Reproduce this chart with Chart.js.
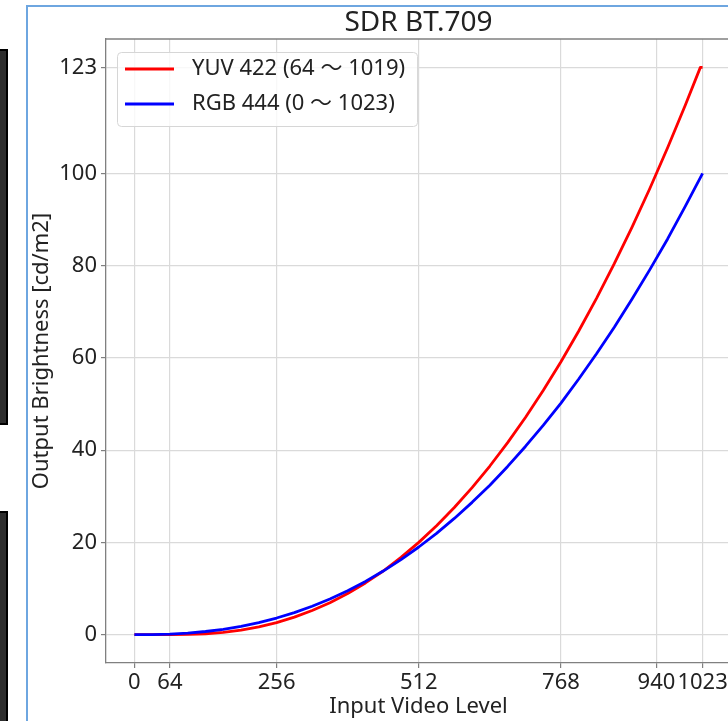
<!DOCTYPE html>
<html>
<head>
<meta charset="utf-8">
<script src="https://cdn.jsdelivr.net/npm/chart.js@4.4.0/dist/chart.umd.min.js"></script>
<style>
  html, body { margin: 0; padding: 0; background: #fff; }
  #page { position: relative; width: 728px; height: 721px; overflow: hidden; background: #fff; }
  .bar { position: absolute; left: 0; width: 6px; background: #2e2e2e; border: 2px solid #000; border-left: none; }
  #frame { position: absolute; left: 26px; top: 5px; width: 800px; height: 800px;
           border-left: 2px solid #6ea6e0; border-top: 2px solid #6ea6e0; }
  #chart { position: absolute; left: 0; top: 0; }
</style>
</head>
<body>
<div id="page">
  <div class="bar" style="top:49px;height:372px"></div>
  <div class="bar" style="top:511px;height:220px"></div>
  <div id="frame"></div>
  <canvas id="chart" width="760" height="721"></canvas>
</div>
<script>
// values
const levels = [0, 32, 64, 96, 128, 160, 192, 224, 256, 288, 320, 352, 384, 416, 448, 480, 512,
  544, 576, 608, 640, 672, 704, 736, 768, 800, 832, 864, 896, 928, 960, 992, 1019, 1023];
const yuvBrightness = [0, 0, 0, 0.04, 0.19, 0.5, 0.99, 1.69, 2.62, 3.79, 5.22, 6.93, 8.92, 11.21, 13.8, 16.74, 20.0,
  23.6, 27.56, 31.87, 36.56, 41.63, 47.08, 52.93, 59.18, 65.84, 72.92, 80.43, 88.37, 96.74, 105.57, 114.84, 123, 123];
const rgbBrightness = [0, 0.02, 0.13, 0.34, 0.68, 1.16, 1.8, 2.61, 3.6, 4.77, 6.15, 7.73, 9.52, 11.54, 13.78, 16.27, 19.0,
  21.96, 25.2, 28.68, 32.4, 36.47, 40.8, 45.37, 50.2, 55.42, 60.9, 66.67, 72.8, 79.14, 85.8, 92.9, 99.1, 100];
const xTicks = [0, 64, 256, 512, 768, 940, 1023];
const yTicks = [0, 20, 40, 60, 80, 100, 123];
const seriesLabels = ["YUV 422 (64 〜 1019)", "RGB 444 (0 〜 1023)"];
const seriesColors = ["#ff0000", "#0000ff"];
const chartTitle = "SDR BT.709";

const fontFamily = '"Noto Sans", "Noto Sans CJK JP", sans-serif';
const textColor = "#222";
const spineColor = "#808080";
const gridColor = "#dadada";
const tickFont = { family: fontFamily, size: 22 };

// title, top/right spines and the legend box inside the plot
const decorPlugin = {
  id: "decor",
  afterDraw(chart) {
    const { ctx, chartArea: a } = chart;
    ctx.save();
    ctx.strokeStyle = spineColor;
    ctx.lineWidth = 1.3;
    ctx.beginPath();
    ctx.moveTo(a.left, a.top);
    ctx.lineTo(a.right, a.top);
    ctx.lineTo(a.right, a.bottom);
    ctx.stroke();

    ctx.fillStyle = textColor;
    ctx.font = "28px " + fontFamily;
    ctx.textAlign = "center";
    ctx.textBaseline = "middle";
    ctx.fillText(chartTitle, (a.left + a.right) / 2, 23);

    // legend
    ctx.font = "22px " + fontFamily;
    const boxX = a.left + 11, boxY = a.top + 13;
    const textX = boxX + 75;
    const maxW = Math.max(...seriesLabels.map((t) => ctx.measureText(t).width));
    const boxW = textX - boxX + maxW + 12, boxH = 74;
    ctx.beginPath();
    ctx.roundRect(boxX + 0.5, boxY + 0.5, boxW, boxH, 4);
    ctx.fillStyle = "rgba(255,255,255,0.8)";
    ctx.fill();
    ctx.strokeStyle = "#d6d6d6";
    ctx.lineWidth = 1;
    ctx.stroke();
    seriesLabels.forEach((label, i) => {
      const y = boxY + 17 + i * 35;
      ctx.strokeStyle = seriesColors[i];
      ctx.lineWidth = 2.8;
      ctx.beginPath();
      ctx.moveTo(boxX + 8, y);
      ctx.lineTo(boxX + 57, y);
      ctx.stroke();
      ctx.fillStyle = textColor;
      ctx.textAlign = "left";
      ctx.fillText(label, textX, y);
    });
    ctx.restore();
  },
};

const ctx = document.getElementById("chart").getContext("2d");
const brightnessChart = new Chart(ctx, {
  type: "line",
  data: {
    datasets: [
      {
        label: seriesLabels[0],
        data: levels.map((x, i) => ({ x: x, y: yuvBrightness[i] })),
        borderColor: seriesColors[0],
        order: 1,
      },
      {
        label: seriesLabels[1],
        data: levels.map((x, i) => ({ x: x, y: rgbBrightness[i] })),
        borderColor: seriesColors[1],
        order: 0,
      },
    ],
  },
  options: {
    responsive: false,
    animation: false,
    devicePixelRatio: 1,
    layout: { padding: { top: 39, right: 29, bottom: 0, left: 0 } },
    elements: {
      point: { radius: 0 },
      line: { borderWidth: 2.8, tension: 0, fill: false, borderJoinStyle: "round" },
    },
    plugins: {
      legend: { display: false },
      title: { display: false },
      tooltip: { enabled: false },
    },
    scales: {
      x: {
        type: "linear",
        min: -51.15,
        max: 1074.15,
        afterBuildTicks: (s) => { s.ticks = xTicks.map((v) => ({ value: v })); },
        afterFit: (s) => { s.height = 58; },
        grid: { color: gridColor, lineWidth: 1.2, tickLength: 5, tickColor: spineColor, tickWidth: 1.2 },
        border: { color: spineColor, width: 1.3 },
        ticks: { color: textColor, font: tickFont, padding: 2, autoSkip: false, maxRotation: 0, callback: (v) => String(v) },
        title: { display: true, text: "Input Video Level", color: textColor, font: tickFont, padding: { top: 0, bottom: 1 } },
      },
      y: {
        type: "linear",
        min: -6.15,
        max: 129.15,
        afterBuildTicks: (s) => { s.ticks = yTicks.map((v) => ({ value: v })); },
        afterFit: (s) => { s.width = 106; },
        grid: { color: gridColor, lineWidth: 1.2, tickLength: 5, tickColor: spineColor, tickWidth: 1.2 },
        border: { color: spineColor, width: 1.3 },
        ticks: { color: textColor, font: tickFont, padding: 4, autoSkip: false, callback: (v) => String(v) },
        title: { display: true, text: "Output Brightness [cd/m2]", color: textColor, font: tickFont, padding: { top: 29, bottom: 0 } },
      },
    },
  },
  plugins: [decorPlugin],
});
</script>
</body>
</html>
